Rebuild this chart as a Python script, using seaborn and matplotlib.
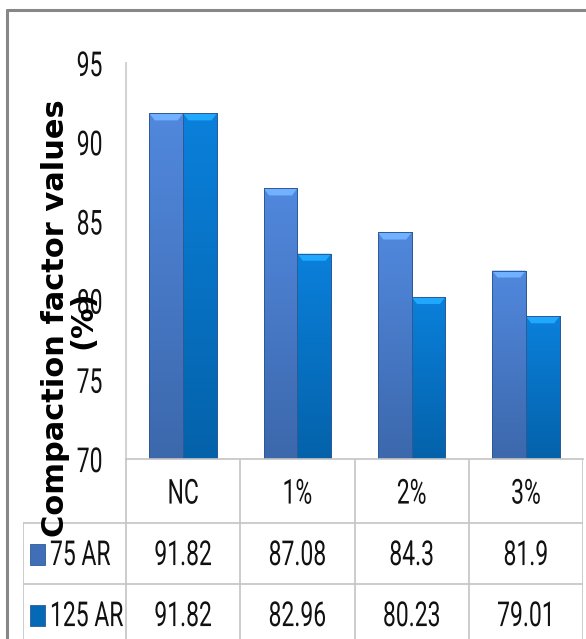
import numpy as np
import pandas as pd
import matplotlib
matplotlib.use("Agg")
import matplotlib.pyplot as plt
import seaborn as sns
from matplotlib.colors import to_rgb
from matplotlib.patches import Rectangle, Polygon
from matplotlib.lines import Line2D
from matplotlib.patheffects import AbstractPathEffect
from matplotlib.transforms import Affine2D

# ---- data -------------------------------------------------------------
mixes = ["NC", "1%", "2%", "3%"]
series = ["75 AR", "125 AR"]
cf_75 = [91.82, 87.08, 84.3, 81.9]
cf_125 = [91.82, 82.96, 80.23, 79.01]
y_ticks = [70, 75, 80, 85, 90, 95]

df = pd.DataFrame({
    "Mix": mixes * 2,
    "Series": [series[0]] * 4 + [series[1]] * 4,
    "CF": cf_75 + cf_125,
})


class Tall(AbstractPathEffect):
    """Draw text glyphs stretched vertically about their own centre."""

    def __init__(self, sy=1.5):
        super().__init__()
        self.sy = sy

    def draw_path(self, renderer, gc, tpath, affine, rgbFace=None):
        ext = tpath.get_extents()
        cy = (ext.y0 + ext.y1) / 2
        pre = Affine2D().translate(0, -cy).scale(1.0, self.sy).translate(0, cy)
        renderer.draw_path(gc, tpath, pre + affine, rgbFace)


# ---- style ------------------------------------------------------------
sns.set_theme(style="white")
plt.rcParams["font.family"] = ["Roboto", "DejaVu Sans"]

colors = {"75 AR": "#4679c8", "125 AR": "#0572c6"}
grid_grey = "#c4c4c4"
txt_size = 16.5
txt_color = "#111111"
tall = [Tall(1.5)]

W, H = 586, 639
fig = plt.figure(figsize=(W / 100, H / 100), dpi=100)
fig.patch.set_facecolor("white")


def fx(px):
    return px / W


def fy(py):
    return 1 - py / H


# plot area: x 126..583 px, y 63..459 px
ax = fig.add_axes([fx(126), fy(459), fx(583) - fx(126), fy(63) - fy(459)])
sns.barplot(data=df, x="Mix", y="CF", hue="Series", order=mixes,
            hue_order=series, palette=colors, width=0.59, saturation=1,
            edgecolor="#2d5a96", linewidth=0.7, legend=False, ax=ax)

# bevelled, gradient-shaded bars
px_per_unit = (459 - 63) / 25.0
for p in list(ax.patches):
    x0, w = p.get_x(), p.get_width()
    top = p.get_y() + p.get_height()
    base = np.array(to_rgb(p.get_facecolor()))
    n = 64
    t = np.linspace(0, 1, n)[:, None]
    light, dark = np.clip(base * 1.08 + 0.02, 0, 1), base * 0.86
    grad = (light * (1 - t) + dark * t).reshape(n, 1, 3)
    im = ax.imshow(grad, extent=(x0, x0 + w, 70, top), aspect="auto",
                   origin="upper", zorder=p.get_zorder() + 0.1,
                   interpolation="bilinear")
    im.set_clip_path(p)
    dh = 7 / px_per_unit
    dx = w * 0.16
    cap = Polygon([(x0, top), (x0 + w, top), (x0 + w - dx, top - dh),
                   (x0 + dx, top - dh)], closed=True,
                  facecolor=np.clip(base * 1.25 + 0.1, 0, 1),
                  edgecolor="none", zorder=p.get_zorder() + 0.2)
    ax.add_patch(cap)
    ax.add_patch(Rectangle((x0, 70), w, top - 70, facecolor="none",
                           edgecolor="#2d5a96", linewidth=0.7,
                           zorder=p.get_zorder() + 0.3))

ax.set_xlim(-0.5, 3.5)
ax.set_ylim(70, 95)
ax.set_yticks(y_ticks)
ax.set_yticklabels([str(t) for t in y_ticks], fontsize=txt_size,
                   color=txt_color)
for lbl in ax.get_yticklabels():
    lbl.set_path_effects(tall)
ax.tick_params(axis="y", length=0, pad=17)
ax.set_xticks([])
ax.set_xlabel("")
ax.set_ylabel("")
for s in ["top", "right"]:
    ax.spines[s].set_visible(False)
ax.spines["left"].set_color("#d4d4d4")
ax.spines["left"].set_linewidth(1.5)
ax.spines["bottom"].set_color(grid_grey)
ax.spines["bottom"].set_linewidth(1.2)

# y axis title (two lines, bold, rotated)
fig.text(fx(56), fy(318), "Compaction factor values", rotation=90,
         ha="center", va="center", fontsize=22, fontweight="bold",
         family="DejaVu Sans", color="black")
fig.text(fx(83), fy(320), "(%)", rotation=90, ha="center", va="center",
         fontsize=22, fontweight="bold", family="DejaVu Sans", color="black")

# ---- data table under the plot ---------------------------------------
unit_px = (583 - 126) / 4.0
lab_left = -0.5 - (126 - 23) / unit_px
tab = fig.add_axes([fx(23), fy(645), fx(583) - fx(23), fy(459) - fy(645)])
tab.set_xlim(lab_left, 3.5)
tab.set_ylim(186, 0)
tab.axis("off")
rows_y = [0, 64, 125, 186]
lkw = dict(color=grid_grey, linewidth=1.2, solid_capstyle="butt")
for xv in [-0.5, 0.5, 1.5, 2.5, 3.5]:
    tab.add_line(Line2D([xv, xv], [0, 186], **lkw))
tab.add_line(Line2D([lab_left, lab_left], [64, 186], **lkw))
for yv in rows_y[1:]:
    tab.add_line(Line2D([lab_left, 3.5], [yv, yv], **lkw))

for i, m in enumerate(mixes):
    tab.text(i, 34, m, ha="center", va="center", fontsize=txt_size,
             color=txt_color, path_effects=tall)
for r, (name, vals) in enumerate(zip(series, [cf_75, cf_125])):
    yc = (rows_y[r + 1] + rows_y[r + 2]) / 2 + 1
    for i, v in enumerate(vals):
        tab.text(i, yc, f"{v:g}", ha="center", va="center",
                 fontsize=txt_size, color=txt_color, path_effects=tall)
    sw = 15 / unit_px
    base = np.array(to_rgb(colors[name]))
    tab.add_patch(Rectangle((lab_left + 7 / unit_px, yc - 11), sw, 21,
                            facecolor=base * 0.92, edgecolor="#2d5a96",
                            linewidth=0.6))
    tab.text(lab_left + 27 / unit_px, yc, name, ha="left", va="center",
             fontsize=txt_size, color=txt_color, path_effects=tall)

# outer chart border
border = dict(color="#878787", linewidth=2.2, transform=fig.transFigure)
fig.add_artist(Line2D([fx(7), fx(7)], [fy(10), -0.02], **border))
fig.add_artist(Line2D([fx(7), 1.02], [fy(10), fy(10)], **border))

fig.savefig("out.png", dpi=100)
